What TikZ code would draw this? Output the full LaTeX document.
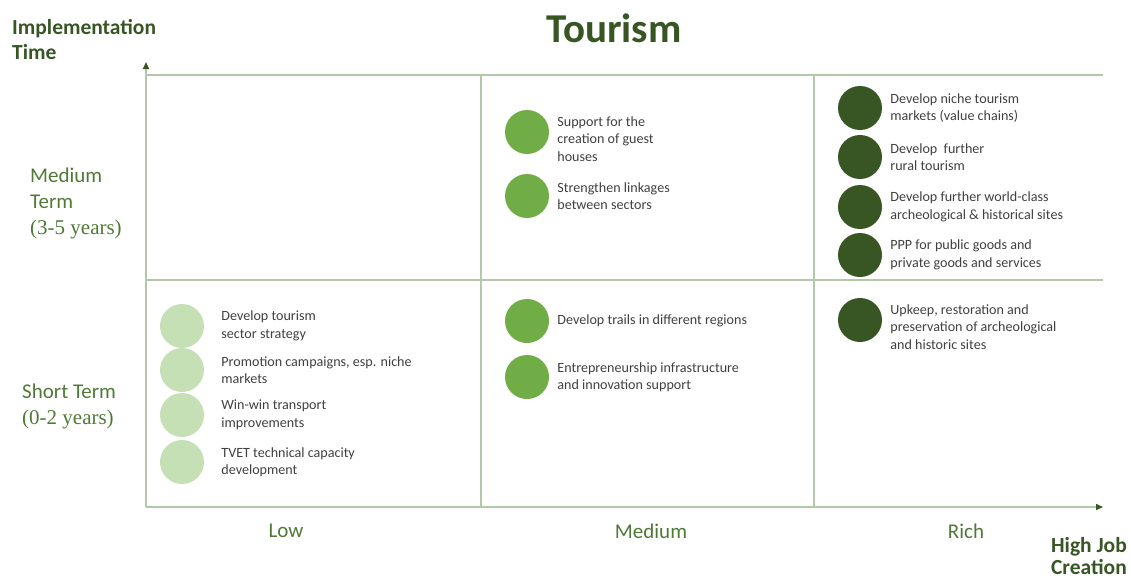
\documentclass[tikz,border=0pt]{standalone}
\usepackage{fontspec}
\setmainfont{Carlito}
\newfontfamily\timesfont{Liberation Serif}
\usepackage{xcolor}
\usepackage{tikz}
\usetikzlibrary{positioning,arrows.meta}
\definecolor{darkgreen}{HTML}{375623}
\definecolor{midgreen}{HTML}{70AD47}
\definecolor{lowgreen}{HTML}{C5E0B4}
\definecolor{labelgreen}{HTML}{4E7A35}
\definecolor{gridgreen}{HTML}{B3C8A8}
\definecolor{textgray}{HTML}{404040}

\begin{document}
\begin{tikzpicture}[x=1pt,y=-1pt,
  dot/.style={circle,minimum size=44pt,inner sep=0pt},
  item/.style={inner sep=0pt,align=left,text=textgray,font=\fontsize{14.1}{17.5}\selectfont},
  axislabel/.style={inner sep=0pt,align=left,text=labelgreen,font=\fontsize{21}{26}\selectfont},
  heading/.style={inner sep=0pt,align=left,text=darkgreen,font=\bfseries\fontsize{21.5}{25}\selectfont},
  grid/.style={draw=gridgreen,line width=1.6pt},
  axis/.style={grid,-{Triangle[length=7pt,width=6pt,color=darkgreen]}}]
\useasboundingbox (0,0) rectangle (1131,578);
\node (title) at (614,28) [text=darkgreen,font=\bfseries\fontsize{41}{45}\selectfont] {Tourism};
\node (ylab) at (12,40) [heading,anchor=west] {Implementation\\Time};
\node (xlab) at (1127,556) [heading,anchor=east,align=right,font=\bfseries\fontsize{21.5}{22.5}\selectfont] {High Job\\Creation};
\coordinate (o) at (146,507);
\coordinate (ytip) at (146,62);
\coordinate (xtip) at (1103,507);
\coordinate (tl) at (146,75);
\coordinate (tr) at (1103,75);
\coordinate (ml) at (146,280);
\coordinate (mr) at (1103,280);
\coordinate (c1t) at (481,75);
\coordinate (c1b) at (481,507);
\coordinate (c2t) at (814,75);
\coordinate (c2b) at (814,507);
\draw [grid] (tl) -- (tr);
\draw [grid] (ml) -- (mr);
\draw [grid] (c1t) -- (c1b);
\draw [grid] (c2t) -- (c2b);
\draw [axis] (o) -- (ytip);
\draw [axis] (o) -- (xtip);
\node (mterm) at (30,203) [axislabel,anchor=west] {Medium\\Term\\{\timesfont(3-5 years)}};
\node (sterm) at (22,406) [axislabel,anchor=west] {Short Term\\{\timesfont(0-2 years)}};
\node (low) at (286,531) [axislabel] {Low};
\node (med) at (651,531) [axislabel] {Medium};
\node (rich) at (966,531) [axislabel] {Rich};
\node (l1) at (182,326) [dot,fill=lowgreen] {};
\node (l2) at (182,370) [dot,fill=lowgreen] {};
\node (l3) at (182,415) [dot,fill=lowgreen] {};
\node (l4) at (182,462) [dot,fill=lowgreen] {};
\node (l1t) [item,right=17pt of l1] {Develop tourism\\sector strategy};
\node (l2t) [item,right=17pt of l2] {Promotion campaigns, esp. niche\\markets};
\node (l3t) [item,right=17pt of l3] {Win-win transport\\improvements};
\node (l4t) [item,right=17pt of l4] {TVET technical capacity\\development};
\node (m1) at (527,132) [dot,fill=midgreen] {};
\node (m2) at (527,196) [dot,fill=midgreen] {};
\node (m3) at (527,321) [dot,fill=midgreen] {};
\node (m4) at (527,377) [dot,fill=midgreen] {};
\node (m1t) [item,right=8pt of m1,yshift=-7pt] {Support for the\\creation of guest\\houses};
\node (m2t) [item,right=8pt of m2] {Strengthen linkages\\between sectors};
\node (m3t) [item,right=8pt of m3] {Develop trails in different regions};
\node (m4t) [item,right=8pt of m4] {Entrepreneurship infrastructure\\and innovation support};
\node (r1) at (860,108) [dot,fill=darkgreen] {};
\node (r2) at (860,157) [dot,fill=darkgreen] {};
\node (r3) at (860,207) [dot,fill=darkgreen] {};
\node (r4) at (860,255) [dot,fill=darkgreen] {};
\node (r5) at (860,320) [dot,fill=darkgreen] {};
\node (r1t) [item,right=8pt of r1] {Develop niche tourism\\markets (value chains)};
\node (r2t) [item,right=8pt of r2] {Develop\ \ further\\rural tourism};
\node (r3t) [item,right=8pt of r3] {Develop further world-class\\archeological \& historical sites};
\node (r4t) [item,right=8pt of r4] {PPP for public goods and\\private goods and services};
\node (r5t) [item,right=8pt of r5,yshift=-7pt] {Upkeep, restoration and\\preservation of archeological\\and historic sites};
\end{tikzpicture}
\end{document}
